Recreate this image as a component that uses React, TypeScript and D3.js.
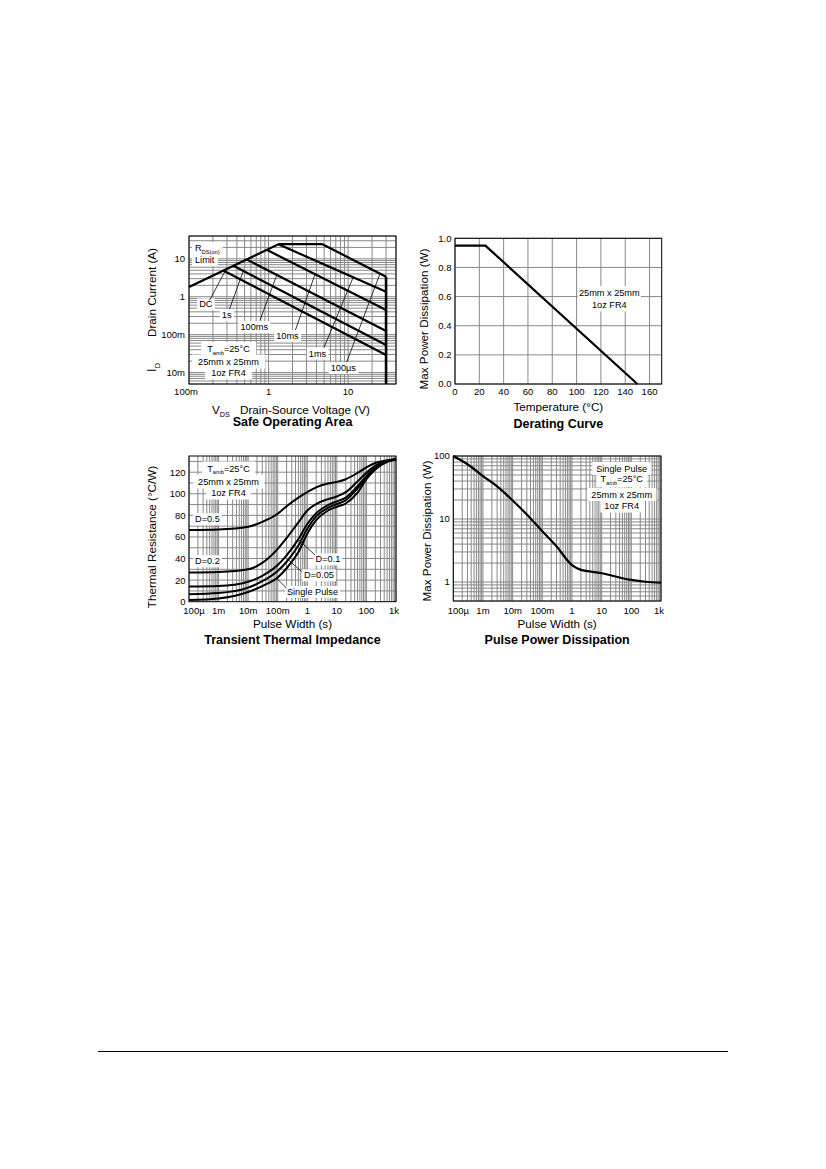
import React, { useEffect, useRef } from "react";
import * as d3 from "d3";

const FONT = "'Liberation Sans', Arial, Helvetica, sans-serif";
const GRID = "#888";
const CURVE_W = 2.2;

// ---- Safe Operating Area ----
const soaVDomain = [0.1, 40];
const soaIDomain = [0.005, 40];
const soaVTicks = [0.1, 1, 10];
const soaVTickLabels = ["100m", "1", "10"];
const soaITicks = [0.01, 0.1, 1, 10];
const soaITickLabels = ["10m", "100m", "1", "10"];
const soaLimitV = [0.1, 1.35, 4.7];
const soaLimitI = [1.82, 24.5, 24.5];
const soaNames = ["DC", "1s", "100ms", "10ms", "1ms", "100µs"];
const soaStartV = [0.27, 0.361, 0.531, 0.948, 1.33, 4.7];
const soaStartI = [4.9, 6.57, 9.67, 17.25, 24.2, 24.5];
const soaEndV = 30;
const soaEndI = [0.0291, 0.0535, 0.125, 0.448, 1.35, 3.38];
// where the labels and their leader lines sit, in axis units
const soaLabelV = [0.163, 0.298, 0.661, 1.73, 4.12, 8.71];
const soaLabelI = [0.644, 0.33, 0.162, 0.094, 0.0323, 0.0135];
const soaLeadV = [0.181, 0.323, 0.78, 2.18, 4.98, 9.6];
const soaLeadI = [0.796, 0.475, 0.237, 0.133, 0.0459, 0.019];
const soaTipV = [0.283, 0.482, 1.27, 3.84, 11.6, 25.2];

// ---- Derating ----
const tempDomain = [0, 170];
const tempTicks = [0, 20, 40, 60, 80, 100, 120, 140, 160];
const pdTicks = [0, 0.2, 0.4, 0.6, 0.8, 1.0];
const pdTickLabels = ["0.0", "0.2", "0.4", "0.6", "0.8", "1.0"];
const deratingTemp = [0, 25, 150];
const deratingPower = [0.95, 0.95, 0];

// ---- Transient thermal impedance ----
const timeDomain = [1e-4, 1e3];
const timeTicks = [1e-4, 1e-3, 1e-2, 0.1, 1, 10, 100, 1000];
const timeTickLabels = ["100µ", "1m", "10m", "100m", "1", "10", "100", "1k"];
const zthDomain = [0, 135];
const zthTicks = [0, 20, 40, 60, 80, 100, 120];
const zthGridLines = [10, 20, 30, 40, 50, 60, 70, 80, 90, 100, 110, 120, 130];
const zthTimes = [1e-4, 1e-3, 1e-2, 3e-2, 0.1, 0.2, 0.5, 1, 2, 5, 10, 20, 50, 100, 200, 500, 1000];
const zthD05 = [66.5, 67, 69.5, 74, 81.5, 88.5, 96.5, 101.5, 106, 109.5, 111, 113.5, 119.3, 124.5, 128.5, 131, 132];
const zthD02 = [27, 27.5, 30, 36, 49, 59, 73.5, 84.5, 90.5, 95, 97.5, 101.5, 111.5, 119.5, 126, 130.5, 132];
const zthD01 = [14, 14.5, 18.5, 24, 34, 43, 58, 72, 82, 89.5, 93, 96.5, 107, 116.5, 124.5, 130, 132];
const zthD005 = [7, 8, 13, 19, 28.5, 37, 52, 67.5, 79, 87, 90.5, 94, 105, 115, 123.5, 129.8, 132];
const zthSingle = [1.5, 3, 9, 14.5, 22.5, 31, 46, 63, 75.5, 84.5, 88, 91, 101, 113.5, 122.5, 129.5, 132];
const zthLabels = ["D=0.1", "D=0.05", "Single Pulse"];
const zthLabelT = [5.02, 2.49, 1.5];
const zthLabelZ = [39.5, 24.7, 9.3];
const zthLeadT = [1.82, 0.647, 0.201];
const zthLeadZ = [43.3, 27.8, 12.4];
const zthTipT = [0.49, 0.226, 0.091];

// ---- Pulse power ----
const ppDomain = [0.5, 100];
const ppTicks = [1, 10, 100];
const ppTickLabels = ["1", "10", "100"];
const ppTimes = [1e-4, 3e-4, 1e-3, 3e-3, 1e-2, 3e-2, 0.1, 0.3, 1, 2, 5, 10, 20, 50, 100, 300, 1000];
const ppPower = [100, 74, 48, 33, 19.7, 11.8, 6.4, 3.7, 1.85, 1.56, 1.45, 1.38, 1.28, 1.15, 1.08, 1.01, 0.98];

type Seg = { t: string; sub?: boolean };

function logSteps(domain: number[]) {
  const out: number[] = [];
  const lo = Math.floor(Math.log10(domain[0]));
  const hi = Math.ceil(Math.log10(domain[1]));
  for (let e = lo; e <= hi; e++) {
    for (let k = 1; k <= 9; k++) {
      const v = k * Math.pow(10, e);
      if (v >= domain[0] * 0.9999 && v <= domain[1] * 1.0001) out.push(v);
    }
  }
  return out;
}

function addText(parent: any, x: number, y: number, segs: Seg[] | string, o: any = {}) {
  const size = o.size ?? 9.2;
  const t = parent
    .append("text")
    .attr("x", x)
    .attr("y", y)
    .attr("font-family", FONT)
    .attr("font-size", size)
    .attr("font-weight", o.weight ?? "normal")
    .attr("text-anchor", o.anchor ?? "start")
    .attr("fill", "#000");
  if (o.transform) t.attr("transform", o.transform);
  const list: Seg[] = typeof segs === "string" ? [{ t: segs }] : segs;
  let down = false;
  list.forEach((s) => {
    const ts = t.append("tspan").text(s.t);
    if (s.sub) {
      ts.attr("font-size", size * 0.62);
      if (!down) ts.attr("dy", size * 0.3);
      down = true;
    } else if (down) {
      ts.attr("dy", -size * 0.3);
      down = false;
    }
  });
  return t;
}

function whiteBg(bg: any, t: any, padX = 2, padY = 1) {
  const b = (t.node() as SVGTextElement).getBBox();
  bg.append("rect")
    .attr("x", b.x - padX)
    .attr("y", b.y - padY)
    .attr("width", b.width + 2 * padX)
    .attr("height", b.height + 2 * padY)
    .attr("fill", "#fff");
}

function drawGrid(g: any, box: any, xs: number[], ys: number[]) {
  const gg = g.append("g").attr("stroke", GRID).attr("stroke-width", 1);
  gg.selectAll("line.v")
    .data(xs)
    .join("line")
    .attr("class", "v")
    .attr("x1", (d: number) => d)
    .attr("x2", (d: number) => d)
    .attr("y1", box.top)
    .attr("y2", box.bottom);
  gg.selectAll("line.h")
    .data(ys)
    .join("line")
    .attr("class", "h")
    .attr("x1", box.left)
    .attr("x2", box.right)
    .attr("y1", (d: number) => d)
    .attr("y2", (d: number) => d);
}

function drawBorder(g: any, box: any) {
  g.append("rect")
    .attr("x", box.left)
    .attr("y", box.top)
    .attr("width", box.right - box.left)
    .attr("height", box.bottom - box.top)
    .attr("fill", "none")
    .attr("stroke", "#000")
    .attr("stroke-width", 1);
}

function curve(layer: any, d: string | null, w = CURVE_W) {
  layer.append("path").attr("d", d).attr("fill", "none").attr("stroke", "#000").attr("stroke-width", w);
}

function leader(layer: any, x1: number, y1: number, x2: number, y2: number) {
  layer.append("line").attr("x1", x1).attr("y1", y1).attr("x2", x2).attr("y2", y2).attr("stroke", "#000").attr("stroke-width", 0.8);
}

function drawSoa(svg: any) {
  const box = { left: 189, right: 396, top: 236, bottom: 384 };
  const x = d3.scaleLog().domain(soaVDomain).range([box.left, box.right]);
  const y = d3.scaleLog().domain(soaIDomain).range([box.bottom, box.top]);
  const g = svg.append("g");
  drawGrid(g, box, logSteps(soaVDomain).map(x), logSteps(soaIDomain).map(y));
  const bg = g.append("g");
  const marks = g.append("g");
  const txt = g.append("g");
  const line = d3.line<number[]>().x((d) => x(d[0])).y((d) => y(d[1]));

  curve(marks, line(soaLimitV.map((v, i) => [v, soaLimitI[i]])));
  soaNames.forEach((name, i) => {
    curve(marks, line([[soaStartV[i], soaStartI[i]], [soaEndV, soaEndI[i]]]));
    const f = Math.log(soaTipV[i] / soaStartV[i]) / Math.log(soaEndV / soaStartV[i]);
    const tipI = Math.exp(Math.log(soaStartI[i]) + f * (Math.log(soaEndI[i]) - Math.log(soaStartI[i])));
    leader(marks, x(soaLeadV[i]), y(soaLeadI[i]), x(soaTipV[i]), y(tipI));
    const t = addText(txt, x(soaLabelV[i]), y(soaLabelI[i]) + 3.3, name, { anchor: "middle" });
    whiteBg(bg, t);
  });
  curve(marks, line([[soaEndV, soaEndI[5]], [soaEndV, soaIDomain[0]]]), 2.6);

  const r1 = addText(txt, box.left + 6, box.top + 15, [{ t: "R" }, { t: "DS(on)", sub: true }]);
  const r2 = addText(txt, box.left + 6, box.top + 27, "Limit");
  whiteBg(bg, r1, 3, 1);
  whiteBg(bg, r2, 3, 1);

  const cx = box.left + 39.5;
  [
    addText(txt, cx, 352, [{ t: "T" }, { t: "amb", sub: true }, { t: "=25°C" }], { anchor: "middle" }),
    addText(txt, cx, 364.5, "25mm x 25mm", { anchor: "middle" }),
    addText(txt, cx, 375.5, "1oz FR4", { anchor: "middle" }),
  ].forEach((t) => whiteBg(bg, t, 6, 2));

  drawBorder(g, box);

  soaVTicks.forEach((v, i) => addText(g, x(v) - (i === 0 ? 3 : 0), 395, soaVTickLabels[i], { anchor: "middle", size: 9.5 }));
  soaITicks.forEach((v, i) => addText(g, box.left - 4, y(v) + 3.4, soaITickLabels[i], { anchor: "end", size: 9.5 }));

  addText(g, 212, 413.5, [{ t: "V" }, { t: "DS", sub: true }], { size: 11.7 });
  addText(g, 240, 413.5, "Drain-Source Voltage (V)", { size: 11.7 });
  addText(g, 0, 0, [{ t: "I" }, { t: "D", sub: true }], { size: 12.5, transform: "translate(156,372) rotate(-90)" });
  addText(g, 0, 0, "Drain Current (A)", { size: 11.7, transform: "translate(156,337) rotate(-90)" });
  addText(g, (box.left + box.right) / 2, 426, "Safe Operating Area", { anchor: "middle", size: 12.5, weight: "bold" });
}

function drawDerating(svg: any) {
  const box = { left: 455, right: 661.7, top: 238.3, bottom: 384 };
  const x = d3.scaleLinear().domain(tempDomain).range([box.left, box.right]);
  const y = d3.scaleLinear().domain([0, 1]).range([box.bottom, box.top]);
  const g = svg.append("g");
  drawGrid(g, box, tempTicks.map(x), pdTicks.map(y));
  const bg = g.append("g");
  const marks = g.append("g");
  const line = d3.line<number>().x((d) => x(d)).y((d, i) => y(deratingPower[i]));
  curve(marks, line(deratingTemp));

  const cx = 609.3;
  [
    addText(g, cx, 296, "25mm x 25mm", { anchor: "middle" }),
    addText(g, cx, 307.5, "1oz FR4", { anchor: "middle" }),
  ].forEach((t) => whiteBg(bg, t, 1, 2));

  drawBorder(g, box);
  tempTicks.forEach((v) => addText(g, x(v), 395, String(v), { anchor: "middle", size: 9.5 }));
  pdTicks.forEach((v, i) => addText(g, box.left - 3.5, y(v) + 3.4, pdTickLabels[i], { anchor: "end", size: 9.5 }));
  addText(g, (box.left + box.right) / 2, 411, "Temperature (°C)", { anchor: "middle", size: 11.7 });
  addText(g, 0, 0, "Max Power Dissipation (W)", { anchor: "middle", size: 11.7, transform: "translate(427.5,319) rotate(-90)" });
  addText(g, (box.left + box.right) / 2, 428, "Derating Curve", { anchor: "middle", size: 12.5, weight: "bold" });
}

function timeTickLabelsOn(g: any, x: any, yb: number) {
  timeTicks.forEach((v, i) => {
    const nudge = i === 0 ? 5 : i === timeTicks.length - 1 ? -2 : 0;
    addText(g, x(v) + nudge, yb, timeTickLabels[i], { anchor: "middle", size: 9.5 });
  });
}

function drawTransient(svg: any) {
  const box = { left: 189, right: 396, top: 456, bottom: 601.7 };
  const x = d3.scaleLog().domain(timeDomain).range([box.left, box.right]);
  const y = d3.scaleLinear().domain(zthDomain).range([box.bottom, box.top]);
  const g = svg.append("g");
  drawGrid(g, box, logSteps(timeDomain).map(x), zthGridLines.map(y));
  const bg = g.append("g");
  const marks = g.append("g");
  const txt = g.append("g");

  const series = [zthD05, zthD02, zthD01, zthD005, zthSingle];
  series.forEach((s) => {
    const line = d3
      .line<number>()
      .x((d) => x(d))
      .y((d, i) => y(s[i]))
      .curve(d3.curveMonotoneX);
    curve(marks, line(zthTimes), 2);
  });

  const picked = [zthD01, zthD005, zthSingle];
  zthLabels.forEach((name, i) => {
    const along = d3.scaleLog().domain(zthTimes).range(picked[i]);
    leader(marks, x(zthLeadT[i]), y(zthLeadZ[i]), x(zthTipT[i]), y(along(zthTipT[i])));
    const t = addText(txt, x(zthLabelT[i]), y(zthLabelZ[i]) + 3.3, name, { anchor: "middle" });
    whiteBg(bg, t);
  });

  whiteBg(bg, addText(txt, box.left + 6, 522.3, "D=0.5"), 2, 1);
  whiteBg(bg, addText(txt, box.left + 6, 564.3, "D=0.2"), 2, 1);

  const cx = box.left + 39.5;
  [
    addText(txt, cx, 471.5, [{ t: "T" }, { t: "amb", sub: true }, { t: "=25°C" }], { anchor: "middle" }),
    addText(txt, cx, 484.5, "25mm x 25mm", { anchor: "middle" }),
    addText(txt, cx, 495.5, "1oz FR4", { anchor: "middle" }),
  ].forEach((t) => whiteBg(bg, t, 5, 2));

  drawBorder(g, box);
  timeTickLabelsOn(g, x, 614);
  zthTicks.forEach((v) => addText(g, box.left - 3.5, y(v) + 3.4, String(v), { anchor: "end", size: 9.5 }));
  addText(g, (box.left + box.right) / 2, 628, "Pulse Width (s)", { anchor: "middle", size: 11.7 });
  addText(g, 0, 0, "Thermal Resistance (°C/W)", { anchor: "middle", size: 11.7, transform: "translate(156,537) rotate(-90)" });
  addText(g, (box.left + box.right) / 2, 643.5, "Transient Thermal Impedance", { anchor: "middle", size: 12.5, weight: "bold" });
}

function drawPulse(svg: any) {
  const box = { left: 453.3, right: 661, top: 456, bottom: 601 };
  const x = d3.scaleLog().domain(timeDomain).range([box.left, box.right]);
  const y = d3.scaleLog().domain(ppDomain).range([box.bottom, box.top]);
  const g = svg.append("g");
  drawGrid(g, box, logSteps(timeDomain).map(x), logSteps(ppDomain).map(y));
  const bg = g.append("g");
  const marks = g.append("g");
  const txt = g.append("g");

  const line = d3
    .line<number>()
    .x((d) => x(d))
    .y((d, i) => y(ppPower[i]))
    .curve(d3.curveMonotoneX);
  curve(marks, line(ppTimes));

  const cx = 621.7;
  [
    addText(txt, cx, 471.5, "Single Pulse", { anchor: "middle" }),
    addText(txt, cx, 482, [{ t: "T" }, { t: "amb", sub: true }, { t: "=25°C" }], { anchor: "middle" }),
  ].forEach((t) => whiteBg(bg, t, 4, 1.5));
  [
    addText(txt, cx, 497.5, "25mm x 25mm", { anchor: "middle" }),
    addText(txt, cx, 509, "1oz FR4", { anchor: "middle" }),
  ].forEach((t) => whiteBg(bg, t, 4, 1.5));

  drawBorder(g, box);
  timeTickLabelsOn(g, x, 614);
  ppTicks.forEach((v, i) => addText(g, box.left - 3.5, y(v) + 3.4, ppTickLabels[i], { anchor: "end", size: 9.5 }));
  addText(g, (box.left + box.right) / 2, 628, "Pulse Width (s)", { anchor: "middle", size: 11.7 });
  addText(g, 0, 0, "Max Power Dissipation (W)", { anchor: "middle", size: 11.7, transform: "translate(431,531) rotate(-90)" });
  addText(g, (box.left + box.right) / 2, 643.5, "Pulse Power Dissipation", { anchor: "middle", size: 12.5, weight: "bold" });
}

export default function App() {
  const ref = useRef<SVGSVGElement | null>(null);

  useEffect(() => {
    const svg = d3.select(ref.current);
    svg.selectAll("*").remove();
    drawSoa(svg);
    drawDerating(svg);
    drawTransient(svg);
    drawPulse(svg);
    // page footer rule
    svg.append("line").attr("x1", 98).attr("x2", 728).attr("y1", 1051.5).attr("y2", 1051.5).attr("stroke", "#000").attr("stroke-width", 1);
  }, []);

  return (
    <svg
      ref={ref}
      width={826}
      height={1169}
      style={{ position: "absolute", left: 0, top: 0, background: "#fff" }}
    ></svg>
  );
}
